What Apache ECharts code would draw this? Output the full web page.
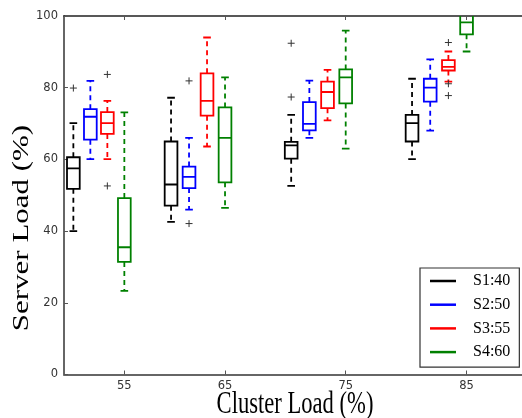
<!DOCTYPE html>
<html><head><meta charset="utf-8">
<script src="https://cdn.jsdelivr.net/npm/echarts@6/dist/echarts.min.js"></script>
<style>html,body{margin:0;padding:0;background:#fff}#c{width:522px;height:418px}</style>
</head><body><div id="c"></div>
<script>
// ---------- data ----------
const clusterLoads = ['55', '65', '75', '85'];
const seriesNames = ['S1:40', 'S2:50', 'S3:55', 'S4:60'];
// [lower whisker, Q1, median, Q3, upper whisker] for each cluster load
const s1Stats = [[40.0, 51.8, 57.5, 60.6, 70.1], [42.6, 47.1, 53.0, 65.0, 77.2], [52.6, 60.2, 63.9, 64.9, 72.4], [60.1, 65.0, 70.1, 72.4, 82.5]];
const s2Stats = [[60.1, 65.5, 71.9, 74.0, 81.9], [46.0, 52.0, 55.1, 58.0, 66.0], [66.0, 68.1, 69.9, 76.0, 82.0], [68.0, 76.1, 80.0, 82.5, 87.9]];
const s3Stats = [[60.1, 67.1, 70.1, 73.2, 76.3], [63.6, 72.2, 76.3, 84.0, 94.0], [70.9, 74.3, 78.8, 81.7, 85.0], [81.7, 84.8, 85.8, 87.7, 90.1]];
const s4Stats = [[23.3, 31.4, 35.5, 49.2, 73.1], [46.5, 53.6, 66.0, 74.5, 82.9], [63.0, 75.6, 82.9, 85.1, 95.9], [90.1, 94.9, 98.2, 101.0, 104.0]];
// outliers: [cluster load index, value]
const s1Outliers = [[0, 79.9], [2, 92.4], [2, 77.4]];
const s2Outliers = [[1, 81.9], [1, 42.1]];
const s3Outliers = [[0, 83.7], [0, 52.6], [3, 92.6], [3, 81.1], [3, 77.8]];
const s4Outliers = [];
const yTicks = [0, 20, 40, 60, 80, 100];

// ---------- layout ----------
const groupAt = [3.32, 8.86, 15.5, 22.15];   // slot position of each cluster-load tick
const slotStep = [0.935, 0.99, 1, 1];
const colors = ['#000000', '#0000ff', '#ff0000', '#008000'];
const allStats = [s1Stats, s2Stats, s3Stats, s4Stats];
const allOutliers = [s1Outliers, s2Outliers, s3Outliers, s4Outliers];
function slotX(g, k) { return groupAt[g] - (3 - k) * slotStep[g]; }

function renderBox(params, api) {
  const x = api.value(0);
  const lo = api.coord([x, api.value(1)]);
  const q1 = api.coord([x, api.value(2)]);
  const md = api.coord([x, api.value(3)]);
  const q3 = api.coord([x, api.value(4)]);
  const hi = api.coord([x, api.value(5)]);
  const w = api.size([0.7, 0])[0];
  const cw = api.size([0.42, 0])[0];
  const cx = lo[0];
  const color = api.visual('color');
  const solid = { stroke: color, lineWidth: 1.8, fill: 'none' };
  const dashed = { stroke: color, lineWidth: 1.8, lineDash: [5, 4], fill: 'none' };
  return {
    type: 'group', children: [
      { type: 'line', shape: { x1: cx, y1: q3[1], x2: cx, y2: hi[1] }, style: dashed },
      { type: 'line', shape: { x1: cx, y1: q1[1], x2: cx, y2: lo[1] }, style: dashed },
      { type: 'line', shape: { x1: cx - cw / 2, y1: hi[1], x2: cx + cw / 2, y2: hi[1] }, style: solid },
      { type: 'line', shape: { x1: cx - cw / 2, y1: lo[1], x2: cx + cw / 2, y2: lo[1] }, style: solid },
      { type: 'rect', shape: { x: cx - w / 2, y: q3[1], width: w, height: q1[1] - q3[1] }, style: solid },
      { type: 'line', shape: { x1: cx - w / 2, y1: md[1], x2: cx + w / 2, y2: md[1] }, style: solid }
    ]
  };
}
function renderPlus(params, api) {
  const p = api.coord([api.value(0), api.value(1)]);
  const s = { stroke: '#333', lineWidth: 1, fill: 'none' };
  return {
    type: 'group', children: [
      { type: 'line', shape: { x1: p[0] - 3.5, y1: p[1], x2: p[0] + 3.5, y2: p[1] }, style: s },
      { type: 'line', shape: { x1: p[0], y1: p[1] - 3.5, x2: p[0], y2: p[1] + 3.5 }, style: s }
    ]
  };
}

const series = seriesNames.map((name, k) => ({
  name: name,
  type: 'custom',
  clip: true,
  itemStyle: { color: colors[k] },
  renderItem: renderBox,
  encode: { x: 0, y: [1, 2, 3, 4, 5] },
  data: allStats[k].map((st, g) => [slotX(g, k)].concat(st))
}));
const outData = [];
allOutliers.forEach((arr, k) => arr.forEach(o => outData.push([slotX(o[0], k), o[1]])));
series.push({
  name: 'outliers', type: 'custom', clip: true, renderItem: renderPlus,
  encode: { x: 0, y: 1 }, data: outData, z: 3
});

const labelFont = { fontFamily: 'DejaVu Sans', fontSize: 11.5, color: '#333' };
const chart = echarts.init(document.getElementById('c'), null, { renderer: 'canvas' });
chart.setOption({
  animation: false,
  backgroundColor: '#fff',
  grid: { left: 64, right: 0, top: 16, bottom: 43.5 },
  xAxis: [{
    type: 'value', min: 0, max: 25.2, position: 'bottom',
    axisLine: { show: true, lineStyle: { color: '#666', width: 2 } },
    axisTick: { show: true, inside: true, length: 4, customValues: groupAt, lineStyle: { color: '#555' } },
    axisLabel: Object.assign({ customValues: groupAt, margin: 6, formatter: v => clusterLoads[groupAt.indexOf(v)] }, labelFont),
    splitLine: { show: false }
  }, {
    type: 'value', min: 0, max: 25.2, position: 'top',
    axisLine: { show: true, lineStyle: { color: '#222', width: 1.5 } },
    axisTick: { show: true, inside: true, length: 4, customValues: groupAt, lineStyle: { color: '#555' } },
    axisLabel: { show: false }, splitLine: { show: false }
  }],
  yAxis: {
    type: 'value', min: 0, max: 100, interval: 20,
    axisLine: { show: true, lineStyle: { color: '#666', width: 2 } },
    axisTick: { show: true, inside: true, length: 4, lineStyle: { color: '#555' } },
    axisLabel: Object.assign({ margin: 6, formatter: v => yTicks.indexOf(v) >= 0 ? String(v) : '' }, labelFont),
    splitLine: { show: false }
  },
  legend: {
    data: seriesNames,
    orient: 'vertical',
    left: 420, top: 268,
    icon: 'rect', itemWidth: 26, itemHeight: 2.5, itemGap: 5.7,
    padding: [4, 9, 6, 10],
    borderColor: '#333', borderWidth: 1.2,
    textStyle: { fontFamily: 'Liberation Serif', fontSize: 16, color: '#000', lineHeight: 18, padding: [0, 0, 0, 12] },
    selectedMode: false
  },
  graphic: [
    { type: 'text', x: 295, y: 405, scaleY: 1.37, style: { text: 'Cluster Load (%)', font: '22.6px "Liberation Serif"', fill: '#000', align: 'center', verticalAlign: 'middle' } },
    { type: 'text', x: 22, y: 228, rotation: Math.PI / 2, scaleX: 1.37, style: { text: 'Server Load (%)', font: '22.6px "Liberation Serif"', fill: '#000', align: 'center', verticalAlign: 'middle' } }
  ],
  series: series
});
</script>
</body></html>
